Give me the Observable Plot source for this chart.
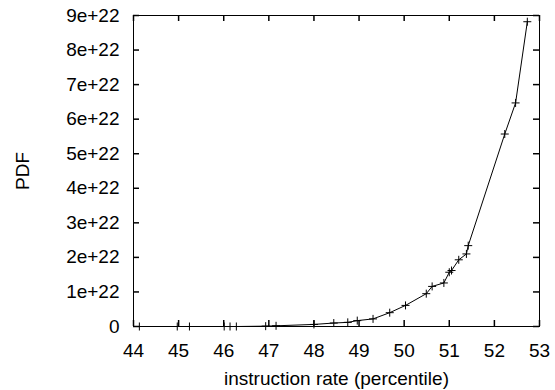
<!DOCTYPE html>
<html>
<head>
<meta charset="utf-8">
<script src="https://cdn.jsdelivr.net/npm/d3@7"></script>
<script src="https://cdn.jsdelivr.net/npm/@observablehq/plot@0.6"></script>
<style>
  html, body { margin: 0; padding: 0; background: #fff; }
  svg { display: block; }
</style>
</head>
<body>
<div id="chart"></div>
<script>
const percentile = [44.13, 44.97, 45.24, 46.01, 46.14, 46.28, 46.93, 47.16, 48.0, 48.44, 48.75, 48.96, 49.31, 49.68, 50.03, 50.49, 50.62, 50.88, 51.0, 51.05, 51.21, 51.38, 51.42, 52.23, 52.47, 52.73];
const pdfE22 = [0, 0, 0, 0, 0, 0, 0.01, 0.02, 0.06, 0.1, 0.12, 0.17, 0.22, 0.40, 0.61, 0.95, 1.16, 1.26, 1.57, 1.62, 1.93, 2.10, 2.34, 5.57, 6.47, 8.82];
const xTicks = [44, 45, 46, 47, 48, 49, 50, 51, 52, 53];
const yTicks = [0, 1e22, 2e22, 3e22, 4e22, 5e22, 6e22, 7e22, 8e22, 9e22];

const data = percentile.map((x, i) => ({x, y: pdfE22[i] * 1e22}));
const yFmt = d => d === 0 ? "0" : `${Math.round(d / 1e22)}e+22`;

const W = 555, H = 390, ML = 133, MR = 16, MT = 15, MB = 64;
const innerW = W - ML - MR, innerH = H - MT - MB;
const T = 6; // inward tick length

const chart = Plot.plot({
  width: W,
  height: H,
  marginLeft: ML,
  marginRight: MR,
  marginTop: MT,
  marginBottom: MB,
  style: {fontFamily: "'Liberation Sans', Arial, sans-serif", fontSize: "19px", color: "black", background: "white"},
  x: {domain: [44, 53]},
  y: {domain: [0, 9e22]},
  marks: [
    Plot.frame({stroke: "black"}),
    Plot.axisX(xTicks, {anchor: "bottom", tickSize: 0, tickPadding: 17, fontSize: 19, label: "instruction rate (percentile)", labelAnchor: "center", labelArrow: "none", labelOffset: 58}),
    Plot.axisY(yTicks, {anchor: "left", tickSize: 0, tickPadding: 14, tickFormat: yFmt, fontSize: 19, label: "PDF", labelAnchor: "center", labelArrow: "none", labelOffset: 118}),
    Plot.ruleX(xTicks, {x: d => d, insetTop: innerH - T, stroke: "black", strokeWidth: 1.5}),
    Plot.ruleX(xTicks, {x: d => d, insetBottom: innerH - T, stroke: "black", strokeWidth: 1.5}),
    Plot.ruleY(yTicks, {y: d => d, insetRight: innerW - T, stroke: "black", strokeWidth: 1.5}),
    Plot.ruleY(yTicks, {y: d => d, insetLeft: innerW - T, stroke: "black", strokeWidth: 1.5}),
    Plot.line(data, {x: "x", y: "y", stroke: "black", strokeWidth: 1}),
    Plot.dot(data, {x: "x", y: "y", symbol: "plus", r: 2.7, stroke: "black", strokeWidth: 1})
  ]
});
document.getElementById("chart").append(chart);
</script>
</body>
</html>
